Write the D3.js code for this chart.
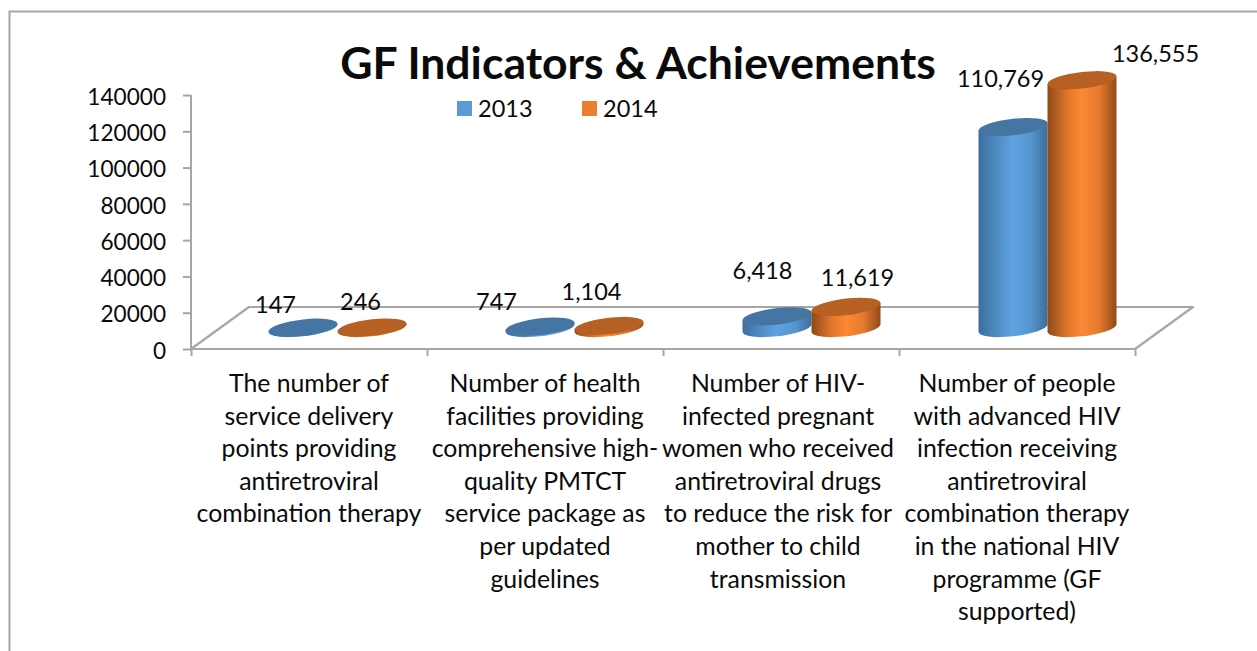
<!DOCTYPE html>
<html><head><meta charset="utf-8">
<script src="https://cdn.jsdelivr.net/npm/d3@7"></script>
<style>html,body{margin:0;padding:0;background:#fff}svg{display:block}text{font-family:Lato,"Open Sans",sans-serif;fill:#0a0a0a}</style>
</head><body><div id="c"></div>
<script>
const categories = [
  ["The number of","service delivery","points providing","antiretroviral","combination therapy"],
  ["Number of health","facilities providing","comprehensive high-","quality PMTCT","service package as","per updated","guidelines"],
  ["Number of HIV-","infected pregnant","women who received","antiretroviral drugs","to reduce the risk for","mother to child","transmission"],
  ["Number of people","with advanced HIV","infection receiving","antiretroviral","combination therapy","in the national HIV","programme (GF","supported)"]
];
const seriesNames = ["2013","2014"];
const values2013 = [147,747,6418,110769];
const values2014 = [246,1104,11619,136555];
const yTicks = [0,20000,40000,60000,80000,100000,120000,140000];
const title = "GF Indicators & Achievements";

// label placement (the source chart has hand-placed labels)
const labelNudge = [
  [[-28,-15],[-12,-18]],
  [[-43,-17],[-17,-26]],
  [[-13,-37],[13,-21]],
  [[-11,-40],[75,-18]]
];
const categoryNudge = [0,0,-3,0];
const groupNudge = [-0.5,0.5,1.5,1.5];

const W=1257,H=651;
const svg=d3.select("#c").append("svg").attr("width",W).attr("height",H);
const grey="#a6a6a6";
const fs=23.5, catFs=24.8, tickFs=22.6;

const defs=svg.append("defs");
[["g0",["#3d6e9b","#5190c9","#5fa2e0","#5596d2","#3d6e9b"]],
 ["g1",["#8f4a18","#e2772b","#fd8835","#e67a2e","#8f4a18"]]].forEach(([id,cs])=>{
  const g=defs.append("linearGradient").attr("id",id);
  [0,.3,.5,.75,1].forEach((o,i)=>g.append("stop").attr("offset",o).attr("stop-color",cs[i]));
});
const topCol=["#4576a3","#b66024"];

// frame
svg.append("path").attr("d",`M9.5,${H} V11.5 H${W}`).attr("fill","none").attr("stroke",grey).attr("stroke-width",2);

const y=d3.scaleLinear().domain([0,140000]).range([349,95]);
const x=d3.scaleBand().domain(d3.range(categories.length)).range([191,1135]);
const depthX=58, depthY=42;

// floor
const x0=191,x1=1135,y0=y(0);
svg.append("path")
  .attr("d",`M${x0},${y0} L${x0+depthX},${y0-depthY} H${x1+depthX} L${x1},${y0} Z`)
  .attr("fill","#fff").attr("stroke",grey).attr("stroke-width",2.2).attr("stroke-linejoin","round");

// axes
const yAxis=d3.axisLeft(y).tickValues(yTicks).tickFormat(d3.format("d")).tickSize(8).tickPadding(17);
const gy=svg.append("g").attr("transform",`translate(${x0},0)`).call(yAxis);
const xAxis=d3.axisBottom(d3.scaleLinear().domain([0,4]).range([x0,x1])).ticks(4).tickSize(7).tickFormat("");
const gx=svg.append("g").attr("transform",`translate(0,${y0})`).call(xAxis);
[gy,gx].forEach(g=>{g.selectAll("path,line").attr("stroke",grey).attr("stroke-width",2);g.select(".domain").attr("d",g===gy?`M0,${y(140000)}V${y0}`:`M${x0},0H${x1}`);});
gy.selectAll("text").attr("font-size",tickFs).attr("fill","#0a0a0a").attr("y",2).style("font-family","Lato");

// cylinders
const rx=34.5, ry=8.3, shear=0.11;
const all=[values2013,values2014];
const slotX=(i,s)=>x(i)+x.bandwidth()/2+depthX/2+(s===0?-rx:rx);
all.forEach((vals,s)=>{
  vals.forEach((v,i)=>{
    const base=y(0)-depthY/2;
    const h=y(0)-y(v);
    const g=svg.append("g").attr("transform",`matrix(1,${-shear},0,1,${slotX(i,s)+groupNudge[i]},${base})`);
    g.append("path")
      .attr("d",`M${-rx},${-h} L${-rx},0 A${rx},${ry} 0 0 0 ${rx},0 L${rx},${-h} Z`)
      .attr("fill",`url(#g${s})`);
    g.append("ellipse").attr("cx",0).attr("cy",-h).attr("rx",rx).attr("ry",ry).attr("fill",topCol[s]);
  });
});
all.forEach((vals,s)=>{
  vals.forEach((v,i)=>{
    const n=labelNudge[i][s];
    svg.append("text").attr("x",slotX(i,s)+n[0]).attr("y",y(v)-depthY/2+n[1]).attr("text-anchor","middle")
      .attr("font-size",fs).text(d3.format(",")(v));
  });
});

// category labels
categories.forEach((lines,i)=>{
  const cx=x(i)+x.bandwidth()/2+categoryNudge[i];
  lines.forEach((t,k)=>{
    svg.append("text").attr("x",cx).attr("y",392+k*32.6).attr("text-anchor","middle")
      .attr("font-size",catFs).text(t);
  });
});

// legend
seriesNames.forEach((n,i)=>{
  const lx=457+i*125;
  svg.append("rect").attr("x",lx).attr("y",101).attr("width",15).attr("height",15).attr("fill",["#5b9bd5","#ed7d31"][i]);
  svg.append("text").attr("x",lx+21).attr("y",117).attr("font-size",fs).text(n);
});

// title
svg.append("text").attr("x",638).attr("y",79).attr("text-anchor","middle")
  .attr("font-size",44.5).attr("font-weight",700).attr("fill","#000").text(title);
</script></body></html>
